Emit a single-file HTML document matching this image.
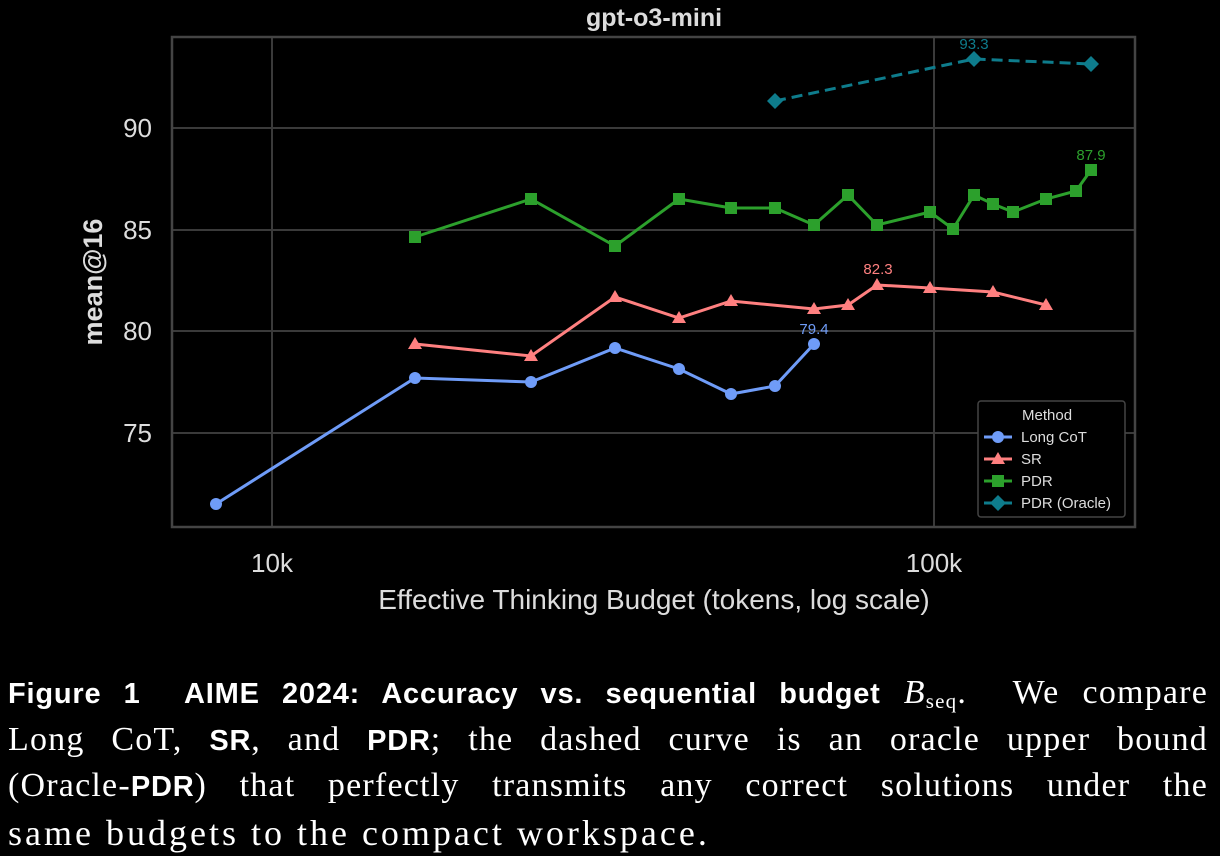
<!DOCTYPE html>
<html><head><meta charset="utf-8"><style>
body{margin:0;background:#000;width:1220px;height:853px;overflow:hidden}
.cap{position:absolute;left:8px;top:670px;width:1200px;color:#fff;font-family:"Liberation Serif",serif;font-size:34px;letter-spacing:1.2px;line-height:46.5px}
.l{display:block;height:46.5px;text-align:justify;text-align-last:justify;white-space:nowrap}
.l.last{text-align-last:left;font-size:36px;letter-spacing:3px}
.b{font-family:"Liberation Sans",sans-serif;font-weight:bold;font-size:29px;letter-spacing:0.8px}
sub{font-size:21px;line-height:0;vertical-align:-5px}
</style></head><body>
<svg width="1220" height="660" style="position:absolute;left:0;top:0" font-family="Liberation Sans, sans-serif">
<g stroke="#3a3a3a" stroke-width="2">
<line x1="272" y1="37" x2="272" y2="527"/><line x1="934" y1="37" x2="934" y2="527"/>
<line x1="172" y1="128" x2="1135" y2="128"/><line x1="172" y1="230" x2="1135" y2="230"/>
<line x1="172" y1="331" x2="1135" y2="331"/><line x1="172" y1="433" x2="1135" y2="433"/>
</g>
<rect x="172" y="37" width="963" height="490" fill="none" stroke="#444" stroke-width="2.5"/>
<text x="654" y="26" fill="#ddd" font-size="25" font-weight="bold" text-anchor="middle">gpt-o3-mini</text>
<g fill="#ddd" font-size="26" text-anchor="end">
<text x="152" y="137">90</text><text x="152" y="239">85</text><text x="152" y="340">80</text><text x="152" y="442">75</text></g>
<g fill="#ddd" font-size="26" text-anchor="middle"><text x="272" y="572">10k</text><text x="934" y="572">100k</text>
<text x="654" y="609" font-size="28">Effective Thinking Budget (tokens, log scale)</text></g>
<text transform="translate(102,282) rotate(-90)" fill="#ddd" font-size="27" font-weight="bold" text-anchor="middle">mean@16</text>
<polyline fill="none" stroke="#6f9cf8" stroke-width="3" points="216,504 415,378 531,382 615,348 679,369 731,394 775,386 814,344"/>
<g fill="#6f9cf8"><circle cx="216" cy="504" r="6"/><circle cx="415" cy="378" r="6"/><circle cx="531" cy="382" r="6"/><circle cx="615" cy="348" r="6"/><circle cx="679" cy="369" r="6"/><circle cx="731" cy="394" r="6"/><circle cx="775" cy="386" r="6"/><circle cx="814" cy="344" r="6"/></g>
<polyline fill="none" stroke="#ff8080" stroke-width="3" points="415,344 531,356 615,297 679,318 731,301 814,309 848,305 877,285 930,288 993,292 1046,305"/>
<g fill="#ff8080">
<path d="M415,337l7,12h-14z"/><path d="M531,349l7,12h-14z"/><path d="M615,290l7,12h-14z"/><path d="M679,311l7,12h-14z"/><path d="M731,294l7,12h-14z"/><path d="M814,302l7,12h-14z"/><path d="M848,298l7,12h-14z"/><path d="M877,278l7,12h-14z"/><path d="M930,281l7,12h-14z"/><path d="M993,285l7,12h-14z"/><path d="M1046,298l7,12h-14z"/></g>
<polyline fill="none" stroke="#2ca02c" stroke-width="3" points="415,237 531,199 615,246 679,199 731,208 775,208 814,225 848,195 877,225 930,212 953,229 974,195 993,204 1013,212 1046,199 1076,191 1091,170"/>
<g fill="#2ca02c">
<rect x="409" y="231" width="12" height="12"/><rect x="525" y="193" width="12" height="12"/><rect x="609" y="240" width="12" height="12"/><rect x="673" y="193" width="12" height="12"/><rect x="725" y="202" width="12" height="12"/><rect x="769" y="202" width="12" height="12"/><rect x="808" y="219" width="12" height="12"/><rect x="842" y="189" width="12" height="12"/><rect x="871" y="219" width="12" height="12"/><rect x="924" y="206" width="12" height="12"/><rect x="947" y="223" width="12" height="12"/><rect x="968" y="189" width="12" height="12"/><rect x="987" y="198" width="12" height="12"/><rect x="1007" y="206" width="12" height="12"/><rect x="1040" y="193" width="12" height="12"/><rect x="1070" y="185" width="12" height="12"/><rect x="1085" y="164" width="12" height="12"/></g>
<polyline fill="none" stroke="#0e7c8c" stroke-width="3" stroke-dasharray="11,6" points="775,101 974,59 1091,64"/>
<g fill="#0e7c8c"><path d="M775,93l8,8l-8,8l-8,-8z"/><path d="M974,51l8,8l-8,8l-8,-8z"/><path d="M1091,56l8,8l-8,8l-8,-8z"/></g>
<g font-size="15" text-anchor="middle">
<text x="814" y="334" fill="#6f9cf8">79.4</text><text x="878" y="274" fill="#ff8080">82.3</text>
<text x="1091" y="160" fill="#2ca02c">87.9</text><text x="974" y="49" fill="#0e7c8c">93.3</text></g>
<rect x="978" y="401" width="147" height="116" rx="3" fill="#000" stroke="#444" stroke-width="1.5"/>
<g font-size="15" fill="#ddd"><text x="1022" y="420">Method</text>
<text x="1021" y="442">Long CoT</text><text x="1021" y="464">SR</text><text x="1021" y="486">PDR</text><text x="1021" y="508">PDR (Oracle)</text></g>
<line x1="984" y1="437" x2="1012" y2="437" stroke="#6f9cf8" stroke-width="3"/><circle cx="998" cy="437" r="6" fill="#6f9cf8"/>
<line x1="984" y1="459" x2="1012" y2="459" stroke="#ff8080" stroke-width="3"/><path d="M998,452l7,12h-14z" fill="#ff8080"/>
<line x1="984" y1="481" x2="1012" y2="481" stroke="#2ca02c" stroke-width="3"/><rect x="992" y="475" width="12" height="12" fill="#2ca02c"/>
<line x1="984" y1="503" x2="1012" y2="503" stroke="#0e7c8c" stroke-width="3"/><path d="M998,495l8,8l-8,8l-8,-8z" fill="#0e7c8c"/>
</svg>
<div class="cap">
<span class="l"><span class="b">Figure 1&nbsp; AIME 2024: Accuracy vs. sequential budget</span> <i>B</i><sub>seq</sub>.&nbsp; We compare</span>
<span class="l">Long CoT, <span class="b">SR</span>, and <span class="b">PDR</span>; the dashed curve is an oracle upper bound</span>
<span class="l">(Oracle-<span class="b">PDR</span>) that perfectly transmits any correct solutions under the</span>
<span class="l last">same budgets to the compact workspace.</span>
</div>
</body></html>
